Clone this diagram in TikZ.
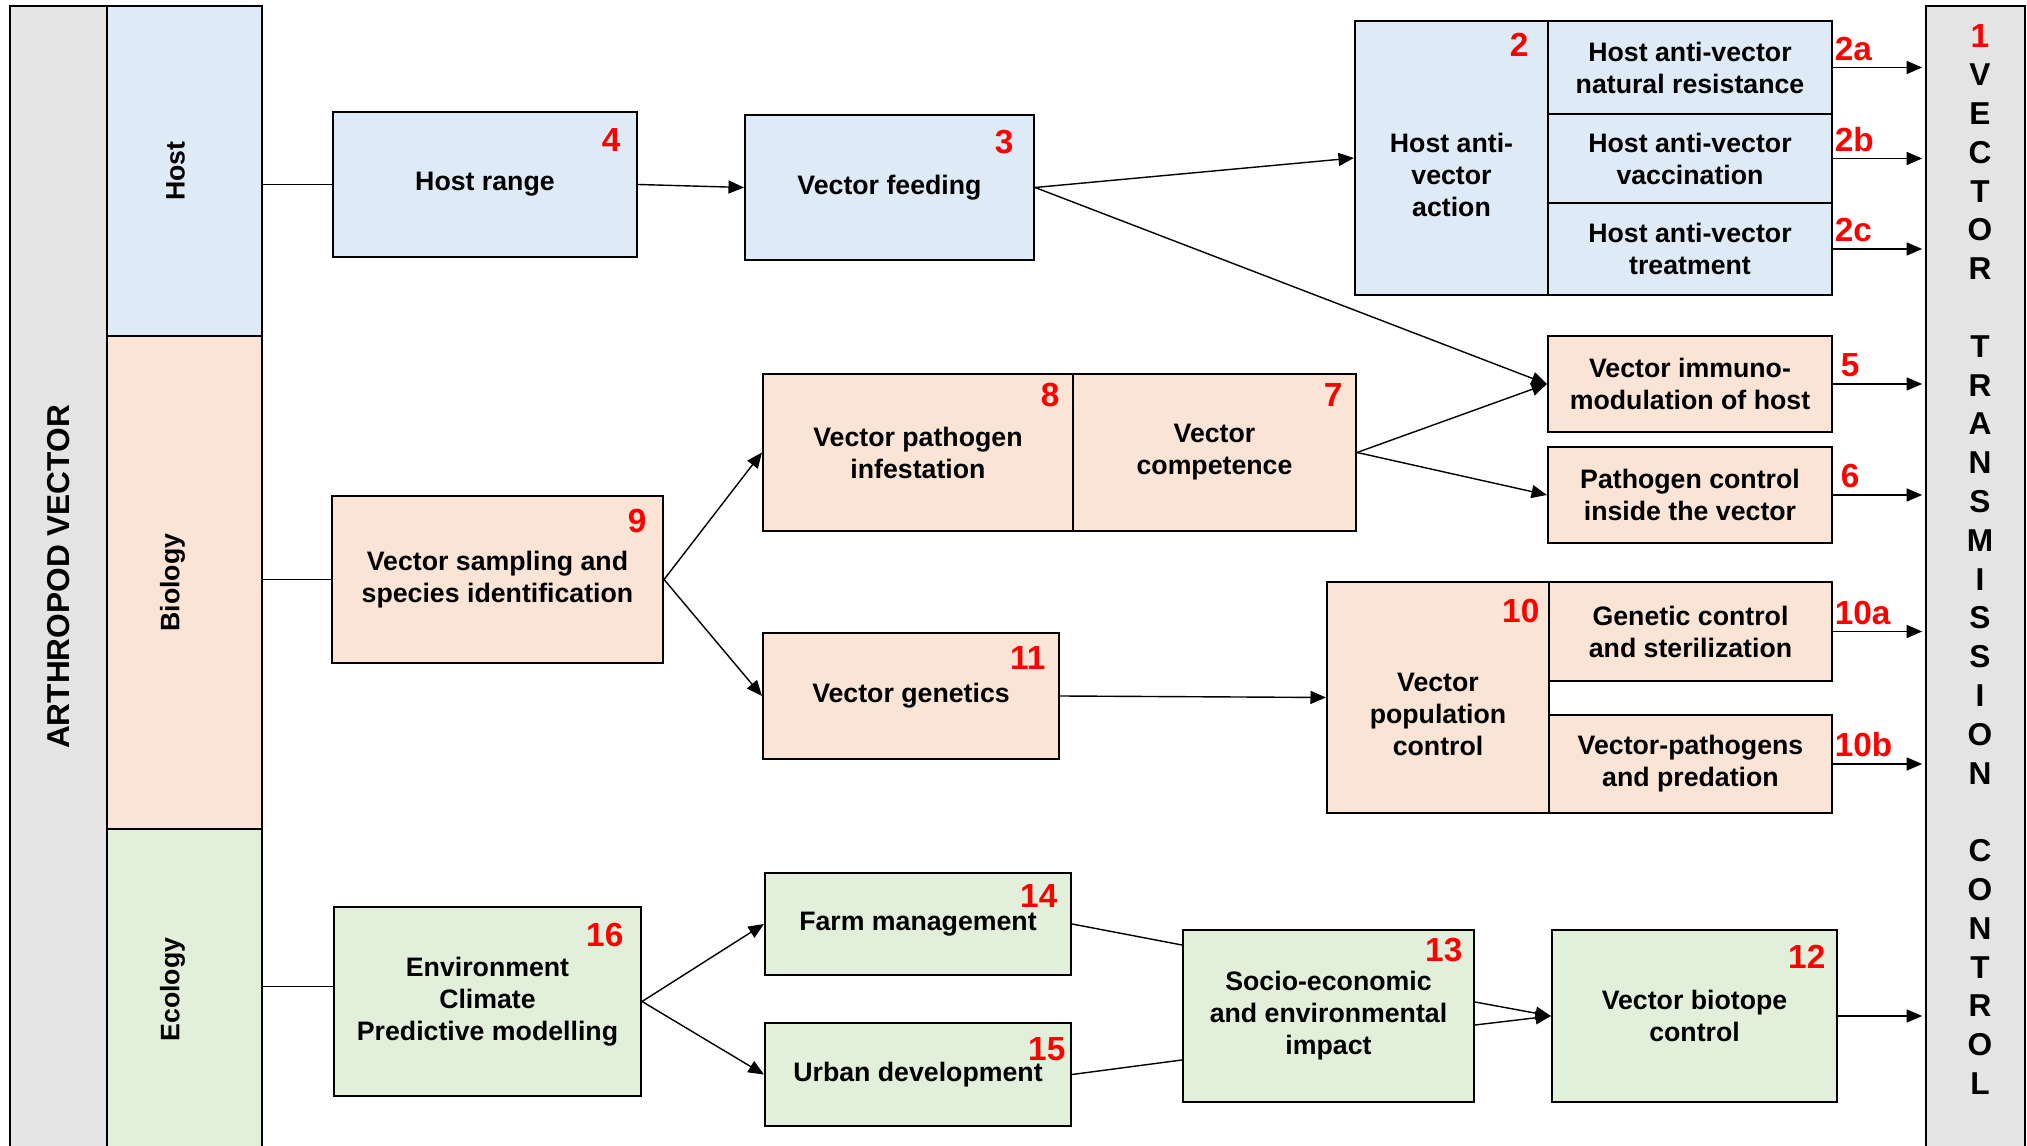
\documentclass[tikz,border=0pt]{standalone}
\usepackage{fontspec}
\setmainfont{Liberation Sans}
\usepackage{xcolor}
\usepackage{tikz}
\usetikzlibrary{arrows.meta}
\usetikzlibrary{positioning}

\definecolor{hostblue}{HTML}{DEEAF6}
\definecolor{biopeach}{HTML}{FAE4D6}
\definecolor{ecogreen}{HTML}{E2EFDA}
\definecolor{colgray}{HTML}{E4E4E4}

\newcommand{\bxfont}{\fontsize{7.6}{9.1}\selectfont\bfseries}
\newcommand{\nbfont}{\fontsize{9.5}{11}\selectfont\bfseries}

\tikzset{
    wh/.style 2 args={minimum width=#1mm, minimum height=#2mm},
    box/.style={draw=black, line width=0.6pt, align=center, font=\bxfont, inner sep=1pt},
    hostbox/.style={box, fill=hostblue},
    biobox/.style={box, fill=biopeach},
    ecobox/.style={box, fill=ecogreen},
    column/.style={draw=black, line width=0.6pt, inner sep=0pt},
    coltxt/.style={rotate=90, font=\bxfont},
    txt/.style={align=center, font=\bxfont, inner sep=0pt},
    num/.style={text=red, font=\nbfont, inner sep=0pt, anchor=north east},
    sub/.style={text=red, font=\nbfont, inner sep=0pt, anchor=south west, xshift=0.1mm, yshift=0.6mm},
    vlet/.style={font=\fontsize{9}{10}\selectfont\bfseries, inner sep=0pt},
    link/.style={draw, line width=0.4pt},
}
\tikzstyle{line} = [draw, line width=0.4pt, -{Triangle[length=4.4pt,width=3.7pt]}]

\begin{document}
\begin{tikzpicture}[x=0.1mm, y=-0.1mm]
\useasboundingbox (0,0) rectangle (2027,1146);
\clip (0,0) rectangle (2027,1146);

% side columns (label text is rotated, so xshift moves it up, yshift moves it left)
\node[column, fill=colgray, wh={9.7}{115.4},
      label={[coltxt, font=\fontsize{9}{10}\selectfont\bfseries, xshift=0.6mm]center:ARTHROPOD VECTOR}] (arth) at (58.5,583) {};
\node[column, fill=hostblue, wh={15.5}{33.0}, label={[coltxt, yshift=0.9mm]center:Host}] (hostcol) at (184.5,171) {};
\node[column, fill=biopeach, wh={15.5}{49.3}, label={[coltxt, yshift=1.2mm]center:Biology}] (biocol) at (184.5,582.5) {};
\node[column, fill=ecogreen, wh={15.5}{33.1}, label={[coltxt, xshift=0.5mm, yshift=1.2mm]center:Ecology}] (ecol) at (184.5,994.5) {};
\node[column, fill=colgray, wh={9.9}{115.4}] (vtc) at (1975.5,583) {};

\node[vlet, text=red, font=\nbfont] (v0) at (1980,36) {1};
\foreach \c [count=\i] in {V,E,C,T,O,R,{},T,R,A,N,S,M,I,S,S,I,O,N,{},C,O,N,T,R,O,L}
    \node[vlet] (v\i) at (1980,{36+38.8*\i}) {\c};

% host
\node[hostbox, wh={30.4}{14.5}] (b4) at (485,184.5) {Host range};
\node[hostbox, wh={28.9}{14.5}] (b3) at (889.5,187.5) {Vector feeding};
\node[hostbox, wh={19.3}{27.4}] (b2) at (1451.5,158) {};
\node[txt] (b2t) at ([yshift=-1.7mm]b2.center) {Host anti-\\vector\\action};
\node[hostbox, wh={28.4}{9.3}] (b2a) at (1690,67.5) {Host anti-vector\\natural resistance};
\node[hostbox, wh={28.4}{8.9}] (b2b) at (1690,158.5) {Host anti-vector\\vaccination};
\node[hostbox, wh={28.4}{9.2}] (b2c) at (1690,249) {Host anti-vector\\treatment};

% biology
\node[biobox, wh={28.4}{9.6}] (b5) at (1690,384) {Vector immuno-\\modulation of host};
\node[biobox, wh={28.4}{9.6}] (b6) at (1690,495) {Pathogen control\\inside the vector};
\node[biobox, wh={31.0}{15.7}] (b8) at (918,452.5) {Vector pathogen\\infestation};
\node[biobox, wh={28.3}{15.7}] (b7) at (1214.5,452.5) {Vector\\competence};
\node[biobox, wh={33.1}{16.7}] (b9) at (497.5,579.5) {Vector sampling and\\species identification};
\node[biobox, wh={29.6}{12.6}] (b11) at (911,696) {Vector genetics};
\node[biobox, wh={22.2}{23.1}] (b10) at (1438,697.5) {};
\node[txt] (b10t) at ([yshift=-1.7mm]b10.center) {Vector\\population\\control};
\node[biobox, wh={28.3}{9.9}] (b10a) at (1690.5,631.5) {Genetic control\\and sterilization};
\node[biobox, wh={28.3}{9.8}] (b10b) at (1690.5,764) {Vector-pathogens\\and predation};

% ecology
\node[ecobox, wh={30.7}{18.9}] (b16) at (487.5,1001.5) {Environment\\Climate\\Predictive modelling};
\node[ecobox, wh={30.6}{10.2}] (b14) at (918,924) {Farm management};
\node[ecobox, wh={30.6}{10.3}] (b15) at (918,1074.5) {Urban development};
\node[ecobox, wh={29.1}{17.2}] (b13) at (1328.5,1016) {Socio-economic\\and environmental\\impact};
\node[ecobox, wh={28.5}{17.2}] (b12) at (1694.5,1016) {Vector biotope\\control};

% numbers
\node[num] (n4) at ([shift={(-17,17)}]b4.north east) {4};
\node[num] (n3) at ([shift={(-21,16)}]b3.north east) {3};
\node[num] (n2) at ([shift={(-20,13)}]b2.north east) {2};
\node[num] (n8) at ([shift={(-14,10)}]b8.north east) {8};
\node[num] (n7) at ([shift={(-14,10)}]b7.north east) {7};
\node[num] (n9) at ([shift={(-17,14)}]b9.north east) {9};
\node[num] (n11) at ([shift={(-14,14)}]b11.north east) {11};
\node[num] (n10) at ([shift={(-10,18)}]b10.north east) {10};
\node[num] (n14) at ([shift={(-14,12)}]b14.north east) {14};
\node[num] (n15) at ([shift={(-6,15)}]b15.north east) {15};
\node[num] (n16) at ([shift={(-18,17)}]b16.north east) {16};
\node[num] (n13) at ([shift={(-12,9)}]b13.north east) {13};
\node[num] (n12) at ([shift={(-12,16)}]b12.north east) {12};

% connectors
\draw[link] (hostcol.east |- b4.west) -- (b4.west);
\draw[line] (b4.east) -- (b3.west);
\draw[line] (b3.east) -- (b2.west);
\draw[line] (b3.east) -- (b5.west);
\draw[line, shorten >=0.8pt] (b2a.east) node[sub] (l2a) {2a} -- (b2a.east -| vtc.west);
\draw[line, shorten >=0.8pt] (b2b.east) node[sub] (l2b) {2b} -- (b2b.east -| vtc.west);
\draw[line, shorten >=0.8pt] (b2c.east) node[sub] (l2c) {2c} -- (b2c.east -| vtc.west);

\draw[link] (biocol.east |- b9.west) -- (b9.west);
\draw[line] (b9.east) -- (b8.west);
\draw[line] (b9.east) -- (b11.west);
\draw[line] (b7.east) -- (b5.west);
\draw[line] (b7.east) -- (b6.west);
\draw[line, shorten >=0.8pt] (b5.east) node[sub, xshift=0.6mm] (l5) {5} -- (b5.east -| vtc.west);
\draw[line, shorten >=0.8pt] (b6.east) node[sub, xshift=0.6mm] (l6) {6} -- (b6.east -| vtc.west);
\draw[line] (b11.east) -- (b10.west);
\draw[line, shorten >=0.8pt] (b10a.east) node[sub] (l10a) {10a} -- (b10a.east -| vtc.west);
\draw[line, shorten >=0.8pt] (b10b.east) node[sub] (l10b) {10b} -- (b10b.east -| vtc.west);

\coordinate (e16) at ([yshift=1.5mm]b16.west);
\draw[link] (ecol.east |- e16) -- (e16);
\draw[line] (b16.east) -- (b14.west);
\draw[line] (b16.east) -- (b15.west);
\draw[link] (b14.east) -- ([yshift=7.1mm]b13.west);
\draw[link] (b15.east) -- ([yshift=-4.4mm]b13.west);
\draw[line] ([yshift=1.4mm]b13.east) -- (b12.west);
\draw[line] ([yshift=-0.9mm]b13.east) -- (b12.west);
\draw[line, shorten >=0.8pt] (b12.east) -- (b12.east -| vtc.west);
\end{tikzpicture}
\end{document}
